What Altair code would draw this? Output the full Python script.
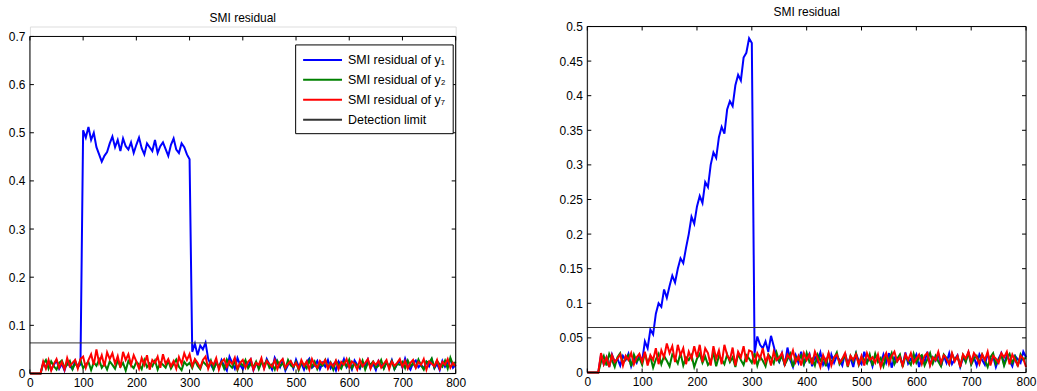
import altair as alt
import pandas as pd

# sample index (every 5th sample of 0..800)
X = list(range(0, 801, 5))

# ---------- left panel (values in thousandths) ----------
L_Y1 = ([0, 0, 0, 0, 0]
        + [22, 12, 25, 8, 18, 27, 10, 20, 6, 24, 15, 9, 26, 13, 19]
        + [505, 490, 512, 485, 500, 470, 455, 440, 452, 460,
           478, 492, 470, 485, 462, 488, 472, 465, 480, 458,
           475, 490, 468, 455, 478, 470, 462, 485, 458, 472,
           480, 466, 452, 475, 488, 465, 458, 478, 470, 455]
        + [445]
        + [45, 62, 38, 58, 50, 64]
        + [30, 18, 8, 25, 12, 28, 15, 6, 35, 22, 10, 32, 18, 9, 24, 14, 28, 7, 20, 16,
           26, 11, 30, 19, 8, 33, 22, 13, 27, 6, 18, 25, 10, 29, 15, 21, 8, 24, 31, 12,
           17, 26, 9, 22, 14, 28, 11, 19, 6, 25, 16, 30, 13, 21, 8, 27, 18, 10, 24, 15,
           29, 12, 20, 7, 26, 17, 11, 23, 14, 28, 9, 19, 25, 12, 31, 16, 8, 22, 27, 13,
           18, 10, 24, 15, 29, 11, 20, 7, 26, 14, 22, 30, 12, 18])
L_Y2 = ([0, 0, 0, 0, 0]
        + [20, 28, 10, 25, 15, 8, 22, 27, 12, 18, 26, 9, 21, 14, 28, 11, 19, 24, 7, 23,
           16, 29, 12, 20, 8, 25, 18, 10, 27, 14, 22, 6, 26, 17, 11, 24, 19, 9, 28, 13,
           21, 15, 27, 8, 23, 18, 12, 26, 10, 20, 29, 14, 7, 24, 17, 22, 11, 28, 16, 9,
           25, 19, 13, 27, 8, 21, 15, 24, 10, 29, 18, 12, 26, 7, 22, 16, 28, 11, 20, 14,
           25, 9, 23, 18, 27, 12, 19, 8, 26, 15, 21, 10, 28, 17, 13, 24, 7, 22, 19, 11,
           27, 14, 25, 9, 20, 16, 28, 12, 23, 8, 26, 18, 10, 24, 15, 29, 11, 21, 17, 13,
           27, 8, 22, 19, 25, 12, 16, 28, 10, 23, 14, 26, 9, 20, 18, 24, 11, 27, 15, 21,
           13, 29, 17, 8, 25, 22, 31, 12, 26, 19, 14, 27, 10, 33, 18, 24])
L_Y7 = ([0, 0, 0, 0, 0]
        + [25, 10, 28, 6, 20, 30, 12, 24, 8, 32, 15, 22, 28, 10, 30]
        + [35, 12, 28, 40, 18, 50, 22, 38, 15, 44, 30, 42, 20, 36, 12, 45, 28, 40, 18, 38]
        + [25, 10, 32, 18, 38, 8, 28, 22, 35, 12, 40, 20, 30, 15, 26, 10, 34, 20, 42, 28]
        + [40, 15, 30, 22, 12, 28, 35, 10, 25, 18, 32, 8, 24, 30, 14, 26, 20, 33, 10, 22]
        + [28, 12, 24, 30, 8, 22, 18, 32, 10, 26, 20, 14, 28, 9, 24, 30, 12, 20, 26, 15]
        + [22, 10, 28, 16, 25, 8, 30, 18, 12, 26, 20, 28, 10, 22, 15, 27, 9, 24, 18, 30]
        + [12, 25, 20, 8, 28, 15, 22, 30, 10, 24, 18, 26, 12, 20, 28, 9, 25, 16, 22, 30]
        + [14, 26, 10, 22, 28, 12, 24, 18, 30, 8, 25, 20, 15, 28, 10, 24, 18, 30, 12, 22]
        + [15])
L_LIMIT = 0.0635

# ---------- right panel (values in thousandths) ----------
R_Y1 = ([0, 0, 0, 0, 0]
        + [25, 12, 22, 8, 26, 15, 20, 10, 24, 18, 27, 9, 21, 14, 25, 16]
        + [45]
        + [35, 62, 55, 85, 100, 95, 120, 108, 125, 140,
           130, 150, 165, 158, 180, 200, 225, 215, 240, 255,
           245, 275, 268, 300, 318, 310, 340, 355, 345, 380,
           392, 385, 415, 430, 422, 455, 462, 483]
        + [476]
        + [28, 52, 40, 35, 45, 30, 53, 38]
        + [22, 15, 28, 10, 36, 18, 8, 25, 14, 30, 12, 20, 27, 9, 23, 16, 29, 11, 19, 7,
           26, 14, 24, 18, 10, 28, 13, 21, 8, 27, 17, 12, 30, 15, 22, 9, 25, 19, 11, 26,
           14, 28, 7, 21, 16, 24, 10, 29, 13, 20, 18, 26, 8, 23, 15, 30, 11, 22, 17, 27,
           9, 24, 14, 28, 12, 19, 25, 8, 21, 16, 29, 13, 22, 10, 26, 18, 11, 27, 15, 23,
           8, 20, 28, 12, 25, 17, 9, 24, 19, 14, 30, 22])
R_Y2 = ([0, 0, 0, 0, 0]
        + [15, 24, 10, 27, 18, 8, 22, 28, 13, 20, 25, 9, 26, 16, 21, 11, 28, 14, 23, 7,
           19, 27, 12, 24, 17, 9, 26, 21, 13, 28, 10, 22, 18, 25, 8, 20, 27, 14, 23, 11,
           16, 28, 9, 24, 19, 12, 26, 15, 22, 8, 27, 18, 11, 25, 20, 14, 28, 10, 23, 17,
           9, 26, 21, 13, 29, 16, 24, 11, 19, 27, 8, 22, 18, 25, 12, 28, 15, 20, 10, 26,
           17, 23, 9, 27, 14, 21, 29, 12, 18, 25, 8, 24, 16, 28, 11, 22, 19, 13, 26, 10,
           27, 15, 21, 9, 24, 18, 28, 12, 20, 26, 8, 23, 17, 11, 27, 14, 22, 25, 10, 19,
           28, 13, 24, 16, 9, 26, 21, 12, 27, 18, 23, 10, 25, 15, 29, 11, 20, 24, 14, 26,
           17, 8, 22, 28, 12, 19, 25, 10, 21, 27, 14, 23, 9, 26, 18, 22])
R_Y7 = ([0, 0, 0, 0, 0]
        + [28, 12, 22, 8, 25, 15, 20, 26, 10, 24, 18, 28, 12, 22, 27]
        + [15, 30, 10, 25, 18, 35, 12, 32, 22, 42, 28, 38, 15, 40, 25, 35, 12, 30, 20, 38]
        + [22, 40, 15, 35, 28, 10, 38, 20, 32, 12, 40, 25, 18, 36, 10, 30, 22, 38, 15, 32]
        + [30, 12, 28, 20, 35, 15, 25, 10, 30, 18, 22, 28, 12, 26, 20, 32, 15, 24, 10, 28]
        + [18, 26, 12, 30, 20, 8, 25, 15, 28, 10, 22, 26, 14, 20, 28, 9, 24, 18, 26, 12]
        + [24, 10, 28, 18, 22, 14, 26, 8, 20, 28, 12, 24, 30, 16, 22, 10, 26, 18, 28, 14]
        + [20, 26, 12, 24, 28, 10, 22, 18, 30, 14, 25, 20, 12, 28, 16, 24, 8, 26, 20, 30]
        + [15, 28, 22, 12, 26, 18, 30, 10, 24, 20, 14, 28, 22, 30, 12, 26, 18, 10, 24, 20]
        + [8])
R_LIMIT = 0.065

for arr in (L_Y1, L_Y2, L_Y7, R_Y1, R_Y2, R_Y7):
    assert len(arr) == len(X), len(arr)

SERIES = ["SMI residual of y\u2081", "SMI residual of y\u2082",
          "SMI residual of y\u2087", "Detection limit"]
X_TICKS = [0, 100, 200, 300, 400, 500, 600, 700, 800]
L_Y_TICKS = [0, 0.1, 0.2, 0.3, 0.4, 0.5, 0.6, 0.7]
R_Y_TICKS = [0, 0.05, 0.1, 0.15, 0.2, 0.25, 0.3, 0.35, 0.4, 0.45, 0.5]

FONT = "Liberation Sans"


def panel(y1, y2, y7, limit, ymax, yticks, W, H, top, limit_color, lx, ly):
    xaxis = alt.Axis(values=X_TICKS, title=None, grid=False, domain=False,
                     tickSize=0, labelPadding=4, labelFlush=False, labelOverlap=False,
                     labelFont=FONT, labelFontSize=12, labelColor="black")
    yaxis = alt.Axis(values=yticks, format="~g", title=None, grid=False,
                     domain=False, tickSize=0, labelPadding=5, labelOverlap=False,
                     labelFont=FONT, labelFontSize=12, labelColor="black")
    xscale = alt.Scale(domain=[0, 800], nice=False, zero=False)
    yscale = alt.Scale(domain=[0, ymax], nice=False, range=[H, top])
    xenc = alt.X("x:Q", scale=xscale, axis=xaxis)
    yenc = alt.Y("value:Q", scale=yscale, axis=yaxis)
    color = alt.Color(
        "series:N",
        scale=alt.Scale(domain=SERIES, range=["#0000ff", "#008000", "#ff0000", limit_color]),
        legend=alt.Legend(title=None, orient="none", legendX=lx, legendY=ly,
                          fillColor="white", strokeColor="black", padding=7,
                          symbolType="M-1,0H4.2", symbolSize=225, symbolStrokeWidth=2,
                          labelOffset=29, rowPadding=5, labelFont=FONT,
                          labelFontSize=12.5, labelColor="black"))
    layers = []
    for name, arr in zip(SERIES[:3], (y1, y2, y7)):
        d = pd.DataFrame({"x": X, "value": [v / 1000 for v in arr], "series": name})
        layers.append(alt.Chart(d).mark_line(strokeWidth=2).encode(x=xenc, y=yenc, color=color))
    lim = pd.DataFrame({"value": [limit], "series": [SERIES[3]]})
    layers.append(alt.Chart(lim).mark_rule(strokeWidth=1).encode(y=yenc, color="series:N"))

    # frame (box around the axes)
    hframe = pd.DataFrame({"value": [0, ymax]})
    vframe = pd.DataFrame({"x": [0, 800], "value": [0, 0], "hi": [ymax, ymax]})
    layers.append(alt.Chart(hframe).mark_rule(color="black", strokeWidth=1).encode(y=yenc))
    layers.append(alt.Chart(vframe).mark_rule(color="black", strokeWidth=1)
                  .encode(x=xenc, y=yenc, y2="hi:Q"))

    # inward ticks on all four sides
    xt = pd.DataFrame({"x": X_TICKS})
    yt = pd.DataFrame({"value": yticks})
    tick = dict(color="black", strokeWidth=1)
    layers.append(alt.Chart(xt).mark_rule(**tick).encode(x=xenc, y=alt.value(H), y2=alt.value(H - 4)))
    layers.append(alt.Chart(xt).mark_rule(**tick).encode(x=xenc, y=alt.value(top), y2=alt.value(top + 4)))
    layers.append(alt.Chart(yt).mark_rule(**tick).encode(y=yenc, x=alt.value(0), x2=alt.value(4)))
    layers.append(alt.Chart(yt).mark_rule(**tick).encode(y=yenc, x=alt.value(W), x2=alt.value(W - 4)))

    title = alt.TitleParams("SMI residual", offset=2, font=FONT, fontSize=12,
                            fontWeight="normal", color="black")
    return alt.layer(*layers).properties(width=W, height=H, title=title)


left = panel(L_Y1, L_Y2, L_Y7, L_LIMIT, 0.7, L_Y_TICKS, 427, 348, 10, "#333333", 266, 18)
right = panel(R_Y1, R_Y2, R_Y7, R_LIMIT, 0.5, R_Y_TICKS, 440, 347, 0, "#555555", 272, 8)

chart = (alt.hconcat(left, right, spacing=92)
         .properties(padding={"left": 7, "top": 4, "right": 0, "bottom": 0})
         .configure_view(strokeWidth=0)
         .configure_axis(labelOverlap=False)
         .configure(background="white"))

chart.save("out.html", embed_options={"renderer": "svg", "actions": False})
